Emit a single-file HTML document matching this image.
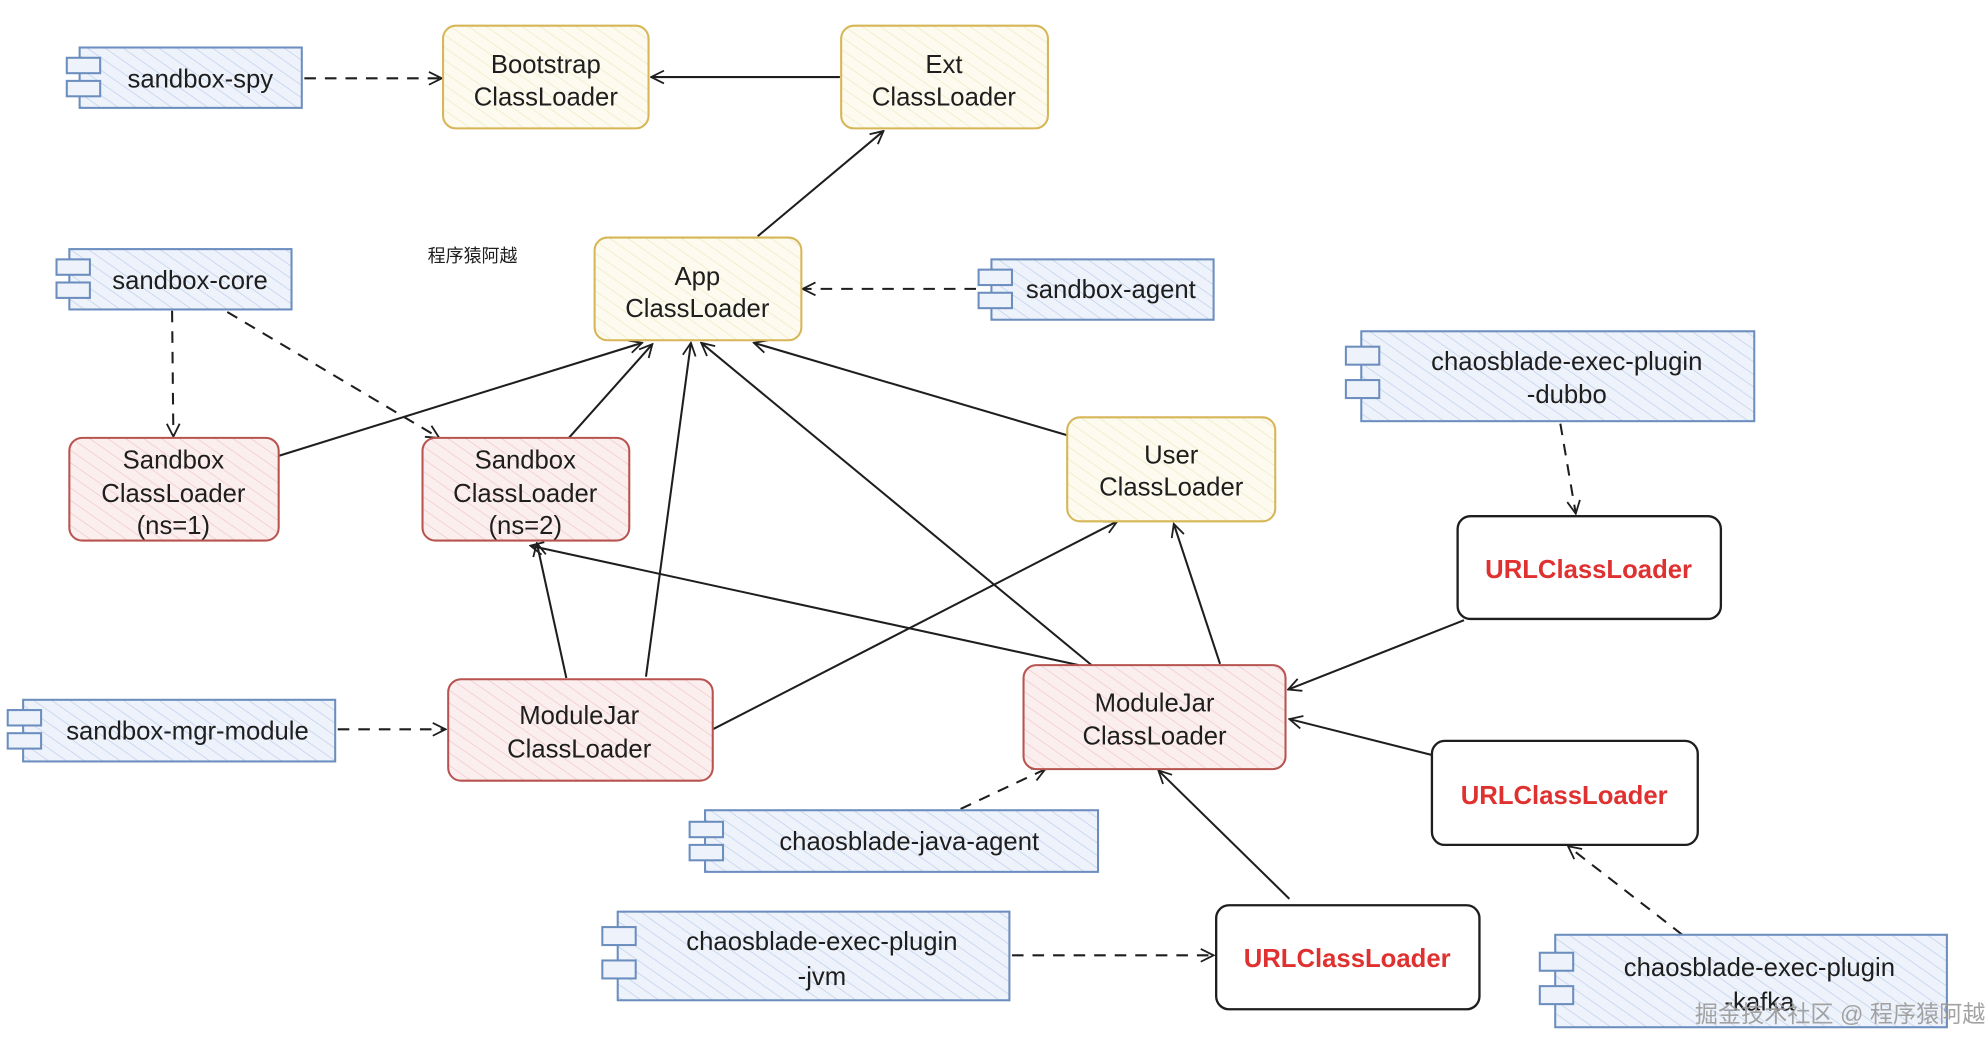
<!DOCTYPE html>
<html><head><meta charset="utf-8"><style>
html,body{margin:0;padding:0;background:#fff;}
svg{display:block;}
text{font-family:"Liberation Sans","Noto Sans CJK SC",sans-serif;fill:#1e1e1e;}
</style></head><body>
<svg width="1988" height="1042" viewBox="0 0 1548 811.5" preserveAspectRatio="none" xmlns="http://www.w3.org/2000/svg">
<defs>
<pattern id="hb" width="8" height="8" patternUnits="userSpaceOnUse" patternTransform="rotate(-55)"><rect width="8" height="8" fill="#eef3fb"/><line x1="0" y1="0" x2="0" y2="8" stroke="#b8cbe8" stroke-width="1"/></pattern>
<pattern id="hy" width="8" height="8" patternUnits="userSpaceOnUse" patternTransform="rotate(-55)"><rect width="8" height="8" fill="#fdfbef"/><line x1="0" y1="0" x2="0" y2="8" stroke="#efe6bf" stroke-width="1"/></pattern>
<pattern id="hr" width="8" height="8" patternUnits="userSpaceOnUse" patternTransform="rotate(-55)"><rect width="8" height="8" fill="#fbeeee"/><line x1="0" y1="0" x2="0" y2="8" stroke="#efc4c4" stroke-width="1"/></pattern>
<marker id="a" viewBox="0 0 12 12" refX="11" refY="6" markerWidth="12" markerHeight="12" orient="auto" markerUnits="userSpaceOnUse"><path d="M1,1 L11,6 L1,11" fill="none" stroke="#1e1e1e" stroke-width="1.4"/></marker>
</defs>

<!-- edges -->
<g stroke="#1e1e1e" stroke-width="1.6" fill="none" marker-end="url(#a)">
<line x1="237" y1="61" x2="344" y2="61" stroke-dasharray="9,7"/>
<line x1="654" y1="60" x2="507" y2="60"/>
<line x1="590" y1="184" x2="688" y2="102"/>
<line x1="760" y1="225" x2="625" y2="225" stroke-dasharray="9,7"/>
<line x1="134" y1="242" x2="135" y2="340" stroke-dasharray="9,7"/>
<line x1="177" y1="243" x2="342" y2="341" stroke-dasharray="9,7"/>
<line x1="217" y1="355" x2="500" y2="267"/>
<line x1="443" y1="341" x2="508" y2="268"/>
<line x1="441" y1="528" x2="418" y2="423"/>
<line x1="503" y1="527" x2="538" y2="267"/>
<line x1="555" y1="568" x2="870" y2="406"/>
<line x1="840" y1="518" x2="413" y2="425"/>
<line x1="850" y1="518" x2="546" y2="267"/>
<line x1="831" y1="339" x2="587" y2="267"/>
<line x1="950" y1="517" x2="914" y2="408"/>
<line x1="1140" y1="483" x2="1003" y2="537"/>
<line x1="1115" y1="588" x2="1004" y2="560"/>
<line x1="1004" y1="700" x2="902" y2="600"/>
<line x1="748" y1="630" x2="814" y2="599" stroke-dasharray="9,7"/>
<line x1="1215" y1="330" x2="1227" y2="400" stroke-dasharray="9,7"/>
<line x1="1310" y1="728" x2="1221" y2="659" stroke-dasharray="9,7"/>
<line x1="788" y1="744" x2="945" y2="744" stroke-dasharray="9,7"/>
<line x1="263" y1="568" x2="347" y2="568" stroke-dasharray="9,7"/>
</g>

<!-- blue component boxes -->
<g stroke="#6c8ebf" stroke-width="1.6">
<rect x="62" y="37" width="173" height="47" fill="url(#hb)"/><rect x="52" y="45" width="26" height="12" fill="#eef3fb"/><rect x="52" y="63" width="26" height="12" fill="#eef3fb"/>
<rect x="54" y="194" width="173" height="47" fill="url(#hb)"/><rect x="44" y="202" width="26" height="12" fill="#eef3fb"/><rect x="44" y="220" width="26" height="12" fill="#eef3fb"/>
<rect x="772" y="202" width="173" height="47" fill="url(#hb)"/><rect x="762" y="210" width="26" height="12" fill="#eef3fb"/><rect x="762" y="228" width="26" height="12" fill="#eef3fb"/>
<rect x="1060" y="258" width="306" height="70" fill="url(#hb)"/><rect x="1048" y="270" width="26" height="14" fill="#eef3fb"/><rect x="1048" y="296" width="26" height="14" fill="#eef3fb"/>
<rect x="18" y="545" width="243" height="48" fill="url(#hb)"/><rect x="6" y="553" width="26" height="12" fill="#eef3fb"/><rect x="6" y="571" width="26" height="12" fill="#eef3fb"/>
<rect x="549" y="631" width="306" height="48" fill="url(#hb)"/><rect x="537" y="640" width="26" height="12" fill="#eef3fb"/><rect x="537" y="658" width="26" height="12" fill="#eef3fb"/>
<rect x="481" y="710" width="305" height="69" fill="url(#hb)"/><rect x="469" y="722" width="26" height="14" fill="#eef3fb"/><rect x="469" y="748" width="26" height="14" fill="#eef3fb"/>
<rect x="1211" y="728" width="305" height="72" fill="url(#hb)"/><rect x="1199" y="742" width="26" height="14" fill="#eef3fb"/><rect x="1199" y="768" width="26" height="14" fill="#eef3fb"/>
</g>

<!-- yellow -->
<g stroke="#d6b656" stroke-width="1.6" fill="url(#hy)">
<rect x="345" y="20" width="160" height="80" rx="10"/>
<rect x="655" y="20" width="161" height="80" rx="10"/>
<rect x="463" y="185" width="161" height="80" rx="10"/>
<rect x="831" y="325" width="162" height="81" rx="10"/>
</g>
<!-- red -->
<g stroke="#b85450" stroke-width="1.6" fill="url(#hr)">
<rect x="54" y="341" width="163" height="80" rx="10"/>
<rect x="329" y="341" width="161" height="80" rx="10"/>
<rect x="349" y="529" width="206" height="79" rx="10"/>
<rect x="797" y="518" width="204" height="81" rx="10"/>
</g>
<!-- white -->
<g stroke="#1e1e1e" stroke-width="1.8" fill="#fff">
<rect x="1135" y="402" width="205" height="80" rx="10"/>
<rect x="1115" y="577" width="207" height="81" rx="10"/>
<rect x="947" y="705" width="205" height="81" rx="10"/>
</g>

<g font-size="20" text-anchor="middle">
<text x="156" y="68">sandbox-spy</text>
<text x="148" y="225">sandbox-core</text>
<text x="865" y="232">sandbox-agent</text>
<text x="146" y="576">sandbox-mgr-module</text>
<text x="708" y="662">chaosblade-java-agent</text>
<text x="1220" y="288">chaosblade-exec-plugin</text><text x="1220" y="314">-dubbo</text>
<text x="640" y="740">chaosblade-exec-plugin</text><text x="640" y="767">-jvm</text>
<text x="1370" y="760">chaosblade-exec-plugin</text><text x="1370" y="787">-kafka</text>
<text x="425" y="57">Bootstrap</text><text x="425" y="82">ClassLoader</text>
<text x="735" y="57">Ext</text><text x="735" y="82">ClassLoader</text>
<text x="543" y="222">App</text><text x="543" y="247">ClassLoader</text>
<text x="912" y="361">User</text><text x="912" y="386">ClassLoader</text>
<text x="135" y="365">Sandbox</text><text x="135" y="391">ClassLoader</text><text x="135" y="416">(ns=1)</text>
<text x="409" y="365">Sandbox</text><text x="409" y="391">ClassLoader</text><text x="409" y="416">(ns=2)</text>
<text x="451" y="564">ModuleJar</text><text x="451" y="590">ClassLoader</text>
<text x="899" y="554">ModuleJar</text><text x="899" y="580">ClassLoader</text>
</g>
<g font-size="20" font-weight="bold" text-anchor="middle" style="fill:#e03131">
<text x="1237" y="450" style="fill:#e03131">URLClassLoader</text>
<text x="1218" y="626" style="fill:#e03131">URLClassLoader</text>
<text x="1049" y="753" style="fill:#e03131">URLClassLoader</text>
</g>
<text x="333" y="204" font-size="14">程序猿阿越</text>
<text x="1546" y="796" font-size="18" text-anchor="end" style="fill:#9a9a9a;opacity:0.9">掘金技术社区 @ 程序猿阿越</text>
</svg>
</body></html>
